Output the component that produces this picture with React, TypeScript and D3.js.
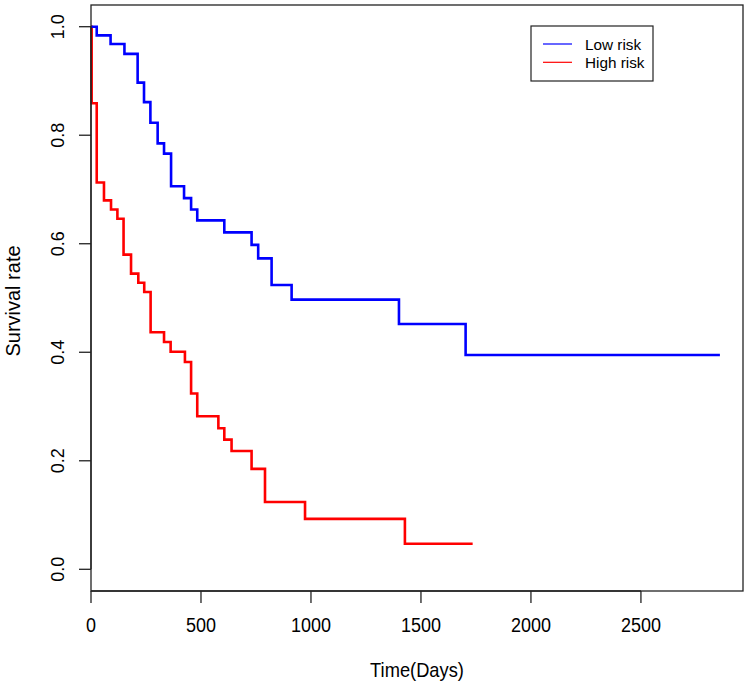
import React from "react";
import * as d3 from "d3";

const lowTimes = [0, 26, 89, 152, 212, 241, 270, 303, 332, 364, 423, 455, 483, 606, 730, 760, 821, 912, 1400, 1703, 2859];
const lowSurv = [1.0, 0.984, 0.968, 0.95, 0.897, 0.861, 0.823, 0.785, 0.766, 0.706, 0.684, 0.663, 0.643, 0.621, 0.598, 0.573, 0.524, 0.497, 0.452, 0.395, 0.395];

const highTimes = [0, 3, 26, 59, 91, 120, 148, 182, 215, 242, 271, 332, 362, 427, 455, 483, 579, 606, 639, 730, 791, 973, 1427, 1735];
const highSurv = [1.0, 0.859, 0.713, 0.68, 0.663, 0.646, 0.58, 0.545, 0.528, 0.511, 0.437, 0.419, 0.401, 0.382, 0.324, 0.282, 0.26, 0.239, 0.218, 0.185, 0.124, 0.093, 0.047, 0.047];

const xTicks = [0, 500, 1000, 1500, 2000, 2500];
const yTicks = [0, 0.2, 0.4, 0.6, 0.8, 1.0];
const seriesNames = ["Low risk", "High risk"];
const seriesColors = ["#0000ff", "#ff0000"];

const FONT = "'Liberation Sans', Arial, Helvetica, sans-serif";

export default function App() {
  const W = 750, H = 685;
  const left = 91, right = 743, top = 5, bottom = 591;
  const x = d3.scaleLinear().domain([0, 2964]).range([left, right]);
  const y = d3.scaleLinear().domain([-0.04, 1.04]).range([bottom, top]);

  const line = d3
    .line<[number, number]>()
    .x((d) => x(d[0]))
    .y((d) => y(d[1]))
    .curve(d3.curveStepAfter);

  const lowData: [number, number][] = lowTimes.map((t, i) => [t, lowSurv[i]]);
  const highData: [number, number][] = highTimes.map((t, i) => [t, highSurv[i]]);

  const axisColor = "#222";

  return (
    <svg
      width={W}
      height={H}
      style={{ position: "absolute", left: 0, top: 0, background: "#fff" }}
      fontFamily={FONT}
    >
      <rect x={0} y={0} width={W} height={H} fill="#fff" />
      {/* curves */}
      <path d={line(highData) || ""} fill="none" stroke={seriesColors[1]} strokeWidth={2.6} />
      <path d={line(lowData) || ""} fill="none" stroke={seriesColors[0]} strokeWidth={2.6} />

      {/* box */}
      <rect x={left} y={top} width={right - left} height={bottom - top} fill="none" stroke={axisColor} strokeWidth={1.3} />

      {/* x axis */}
      <line x1={x(xTicks[0])} x2={x(xTicks[xTicks.length - 1])} y1={bottom} y2={bottom} stroke={axisColor} strokeWidth={1.3} />
      {xTicks.map((t) => (
        <g key={"x" + t}>
          <line x1={x(t)} x2={x(t)} y1={bottom} y2={bottom + 12} stroke={axisColor} strokeWidth={1.3} />
          <text transform={`translate(${x(t)},632) scale(1,1.08)`} textAnchor="middle" fontSize={18} fill="#000">
            {t}
          </text>
        </g>
      ))}

      {/* y axis */}
      <line x1={left} x2={left} y1={y(0)} y2={y(1)} stroke={axisColor} strokeWidth={1.3} />
      {yTicks.map((t) => (
        <g key={"y" + t}>
          <line x1={left - 12} x2={left} y1={y(t)} y2={y(t)} stroke={axisColor} strokeWidth={1.3} />
          <text
            transform={`translate(64,${y(t)}) rotate(-90)`}
            textAnchor="middle"
            fontSize={18}
            fill="#000"
          >
            {t.toFixed(1)}
          </text>
        </g>
      ))}

      {/* axis titles */}
      <text
        transform={`translate(${(left + right) / 2},677) scale(1,1.08)`}
        textAnchor="middle"
        fontSize={18.3}
        fill="#000"
      >
        Time(Days)
      </text>
      <text
        transform={`translate(20,${(top + bottom) / 2 + 3}) rotate(-90)`}
        textAnchor="middle"
        fontSize={20}
        fill="#000"
      >
        Survival rate
      </text>

      {/* legend */}
      <rect x={531} y={26} width={122} height={55} fill="#fff" stroke={axisColor} strokeWidth={1.2} />
      {seriesNames.map((n, i) => (
        <g key={n}>
          <line x1={543} x2={572} y1={44 + i * 18.3} y2={44 + i * 18.3} stroke={seriesColors[i]} strokeWidth={1.2} />
          <text x={585} y={49.5 + i * 18.3} fontSize={15.3} fill="#000">
            {n}
          </text>
        </g>
      ))}
    </svg>
  );
}
